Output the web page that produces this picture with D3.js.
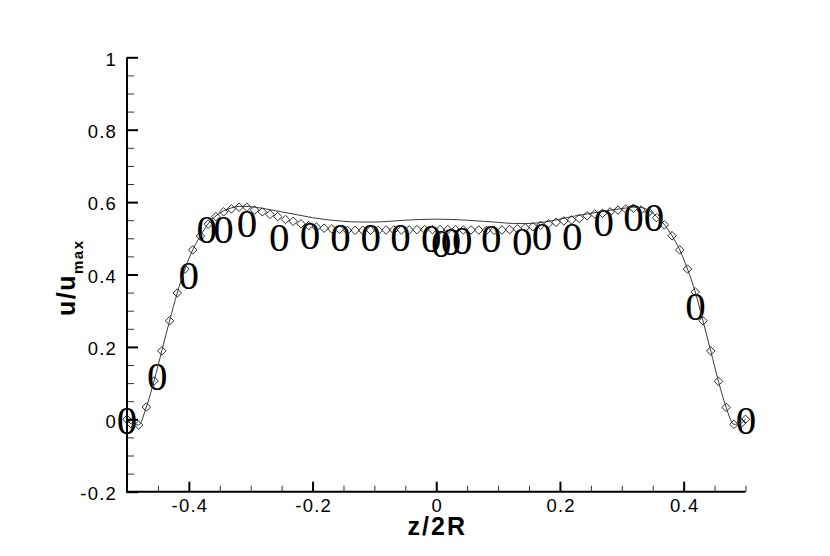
<!DOCTYPE html>
<html>
<head>
<meta charset="utf-8">
<script src="https://cdn.jsdelivr.net/npm/d3@7"></script>
<style>
  html, body { margin: 0; padding: 0; background: #fff; }
  svg { display: block; }
</style>
</head>
<body>
<svg id="chart" width="830" height="556"></svg>
<script>
// ---------- data ----------
// axis ticks
const xMajorTicks = [-0.4, -0.2, 0, 0.2, 0.4];
const xTickLabels = ["-0.4", "-0.2", "0", "0.2", "0.4"];
const xMinorTicks = [-0.5, -0.45, -0.35, -0.3, -0.25, -0.15, -0.1, -0.05, 0.05, 0.1, 0.15, 0.25, 0.3, 0.35, 0.45, 0.5];
const yMajorTicks = [-0.2, 0, 0.2, 0.4, 0.6, 0.8, 1];
const yTickLabels = ["-0.2", "0", "0.2", "0.4", "0.6", "0.8", "1"];
const yMinorTicks = [-0.15, -0.1, -0.05, 0.05, 0.1, 0.15, 0.25, 0.3, 0.35, 0.45, 0.5, 0.55, 0.65, 0.7, 0.75, 0.85, 0.9, 0.95];

// series 1: smooth solid line (no markers)
const lineX = [-0.5, -0.49375, -0.48125, -0.46875, -0.45625, -0.44375, -0.43125, -0.41875, -0.40625, -0.39375,
  -0.38125, -0.36875, -0.35625, -0.34375, -0.33125, -0.31875, -0.30625, -0.29375, -0.275, -0.25,
  -0.225, -0.2, -0.175, -0.15, -0.125, -0.1, -0.075, -0.05, -0.025, 0,
  0.025, 0.05, 0.075, 0.1, 0.125, 0.15, 0.175, 0.2, 0.225, 0.25,
  0.275, 0.3, 0.31875, 0.33125, 0.34375, 0.35625, 0.36875, 0.38125, 0.39375, 0.40625,
  0.41875, 0.43125, 0.44375, 0.45625, 0.46875, 0.48125, 0.49375, 0.5];
const lineY = [0.0, -0.012, -0.016, 0.034, 0.106, 0.189, 0.272, 0.349, 0.415, 0.468,
  0.507, 0.540, 0.562, 0.576, 0.584, 0.588, 0.588, 0.586, 0.581, 0.573,
  0.565, 0.557, 0.551, 0.547, 0.545, 0.545, 0.547, 0.550, 0.552, 0.553,
  0.552, 0.550, 0.547, 0.544, 0.541, 0.541, 0.545, 0.553, 0.562, 0.569,
  0.576, 0.582, 0.586, 0.585, 0.577, 0.560, 0.538, 0.507, 0.468, 0.415,
  0.352, 0.272, 0.189, 0.105, 0.033, -0.014, -0.010, 0.0];

// series 2: diamond markers
const diamondX = [-0.5, -0.49375, -0.48125, -0.46875, -0.45625, -0.44375, -0.43125, -0.41875, -0.40625, -0.39375,
  -0.38125, -0.36875, -0.35625, -0.34375, -0.33125, -0.31875, -0.30625, -0.29375, -0.28125, -0.26875,
  -0.25625, -0.24375, -0.23125, -0.21875, -0.20625, -0.19375, -0.18125, -0.16875, -0.15625, -0.14375,
  -0.13125, -0.11875, -0.10625, -0.09375, -0.08125, -0.06875, -0.05625, -0.04375, -0.03125, -0.01875,
  -0.00625, 0.00625, 0.01875, 0.03125, 0.04375, 0.05625, 0.06875, 0.08125, 0.09375, 0.10625,
  0.11875, 0.13125, 0.14375, 0.15625, 0.16875, 0.18125, 0.19375, 0.20625, 0.21875, 0.23125,
  0.24375, 0.25625, 0.26875, 0.28125, 0.29375, 0.30625, 0.31875, 0.33125, 0.34375, 0.35625,
  0.36875, 0.38125, 0.39375, 0.40625, 0.41875, 0.43125, 0.44375, 0.45625, 0.46875, 0.48125,
  0.49375, 0.5];
const diamondY = [0.000, -0.012, -0.016, 0.034, 0.106, 0.189, 0.272, 0.349, 0.415, 0.468,
  0.506, 0.539, 0.560, 0.573, 0.581, 0.586, 0.586, 0.578, 0.573, 0.566,
  0.560, 0.552, 0.547, 0.540, 0.535, 0.531, 0.528, 0.526, 0.525, 0.522,
  0.522, 0.522, 0.522, 0.522, 0.523, 0.523, 0.523, 0.523, 0.524, 0.524,
  0.524, 0.524, 0.524, 0.524, 0.523, 0.523, 0.523, 0.522, 0.522, 0.523,
  0.524, 0.526, 0.529, 0.532, 0.536, 0.540, 0.544, 0.548, 0.551, 0.555,
  0.562, 0.567, 0.569, 0.573, 0.578, 0.581, 0.583, 0.578, 0.572, 0.557,
  0.537, 0.507, 0.468, 0.415, 0.352, 0.272, 0.189, 0.105, 0.033, -0.014,
  -0.010, 0.000];

// series 3: "0" text symbols
const zeroX = [-0.500, -0.451, -0.400, -0.371, -0.344, -0.306, -0.254, -0.204, -0.155, -0.106,
  -0.058, -0.008, 0.008, 0.024, 0.042, 0.089, 0.139, 0.171, 0.220, 0.271,
  0.319, 0.352, 0.419, 0.501];
const zeroY = [-0.004, 0.118, 0.397, 0.526, 0.526, 0.541, 0.504, 0.509, 0.504, 0.504,
  0.504, 0.500, 0.487, 0.493, 0.495, 0.500, 0.493, 0.507, 0.507, 0.544,
  0.559, 0.558, 0.313, -0.004];

const xTitle = "z/2R";
const yTitleMain = "u/u";
const yTitleSub = "max";

// ---------- drawing ----------
const svg = d3.select("#chart");
svg.append("rect").attr("width", 830).attr("height", 556).attr("fill", "#fff");

const x = d3.scaleLinear().domain([-0.5, 0.5]).range([127, 745.5]);
const y = d3.scaleLinear().domain([-0.2, 1]).range([491.7, 57.3]);

const labelFont = "'Liberation Sans', Arial, Helvetica, sans-serif";

// "0" text symbols
const zeroSize = 41;
svg.append("g")
  .selectAll("text")
  .data(zeroX.map((d, i) => [d, zeroY[i]]))
  .join("text")
  .attr("x", d => x(d[0]))
  .attr("y", d => y(d[1]) + zeroSize * 0.335)
  .attr("text-anchor", "middle")
  .attr("font-family", "'Liberation Serif', 'Times New Roman', serif")
  .attr("font-size", zeroSize)
  .attr("fill", "#000")
  .text("0");

// smooth line
const lineGen = d3.line().x(d => x(d[0])).y(d => y(d[1])).curve(d3.curveMonotoneX);
svg.append("path")
  .datum(lineX.map((d, i) => [d, lineY[i]]))
  .attr("d", lineGen)
  .attr("fill", "none")
  .attr("stroke", "#3a3a3a")
  .attr("stroke-width", 1);

// diamonds
const diamond = d3.symbol().type(d3.symbolSquare).size(36);
svg.append("g")
  .selectAll("path")
  .data(diamondX.map((d, i) => [d, diamondY[i]]))
  .join("path")
  .attr("d", diamond)
  .attr("transform", d => `translate(${x(d[0])},${y(d[1])}) rotate(45)`)
  .attr("fill", "none")
  .attr("stroke", "#222")
  .attr("stroke-width", 0.9);

// axes
function styleAxis(g, major) {
  g.selectAll(".tick line")
    .attr("stroke", major ? "#000" : "#333")
    .attr("stroke-width", major ? 2 : 1);
  g.selectAll(".tick text")
    .attr("font-family", labelFont)
    .attr("font-size", 18.5)
    .attr("letter-spacing", 1.2)
    .attr("fill", "#000");
}

// x axis minor
const gxMinor = svg.append("g").attr("transform", `translate(0,${y(-0.2)})`)
  .call(d3.axisBottom(x).tickValues(xMinorTicks).tickSizeInner(-6).tickSizeOuter(0).tickFormat(""));
gxMinor.select(".domain").remove();
styleAxis(gxMinor, false);
// x axis major
const gx = svg.append("g").attr("transform", `translate(0,${y(-0.2)})`)
  .call(d3.axisBottom(x).tickValues(xMajorTicks).tickSizeInner(-10).tickSizeOuter(0)
    .tickPadding(20).tickFormat((d, i) => xTickLabels[i]));
gx.select(".domain").remove();
styleAxis(gx, true);
gx.selectAll(".tick text").attr("dy", 0).attr("y", 20.5).attr("dx", 0.6);

// y axis minor
const gyMinor = svg.append("g").attr("transform", `translate(${x(-0.5)},0)`)
  .call(d3.axisLeft(y).tickValues(yMinorTicks).tickSizeInner(-7).tickSizeOuter(0).tickFormat(""));
gyMinor.select(".domain").remove();
styleAxis(gyMinor, false);
// y axis major
const gy = svg.append("g").attr("transform", `translate(${x(-0.5)},0)`)
  .call(d3.axisLeft(y).tickValues(yMajorTicks).tickSizeInner(-11).tickSizeOuter(0)
    .tickPadding(10).tickFormat((d, i) => yTickLabels[i]));
gy.select(".domain").remove();
styleAxis(gy, true);
gy.selectAll(".tick text").attr("dy", 0).attr("y", 7.8);

// axis lines
svg.append("line")
  .attr("x1", x(-0.5)).attr("x2", x(-0.5)).attr("y1", y(1)).attr("y2", y(-0.2) + 1)
  .attr("stroke", "#000").attr("stroke-width", 2);
svg.append("line")
  .attr("x1", x(-0.5) - 1).attr("x2", x(0.5)).attr("y1", y(-0.2)).attr("y2", y(-0.2))
  .attr("stroke", "#000").attr("stroke-width", 2);

// titles
svg.append("text")
  .attr("x", x(0) + 1).attr("y", 535)
  .attr("text-anchor", "middle")
  .attr("font-family", labelFont)
  .attr("font-weight", "bold")
  .attr("font-size", 25)
  .attr("letter-spacing", 2)
  .attr("fill", "#000")
  .text(xTitle);

const yt = svg.append("text")
  .attr("transform", "translate(75,316) rotate(-90)")
  .attr("text-anchor", "start")
  .attr("font-family", labelFont)
  .attr("font-weight", "bold")
  .attr("letter-spacing", 1.5)
  .attr("fill", "#000");
yt.append("tspan").attr("font-size", 25).text(yTitleMain);
yt.append("tspan").attr("font-size", 15).attr("dy", 8).text(yTitleSub);
</script>
</body>
</html>
